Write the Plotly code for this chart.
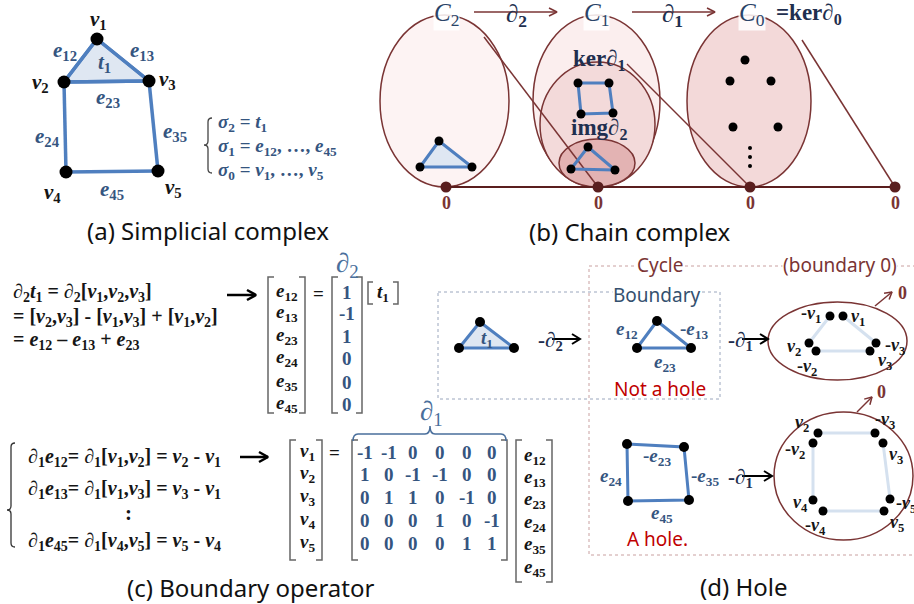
import math
import plotly.graph_objects as go

W, H = 914, 604
SERIF = "Liberation Serif"
SANS = "Noto Sans"

# ---------------- data ----------------
# (a) simplicial complex: vertex positions and edges
VA_X = [97, 64, 149, 66, 158]
VA_Y = [39, 82, 81, 172, 171]
EDGES = [(0, 1), (0, 2), (1, 2), (1, 3), (2, 4), (3, 4)]
EDGE_NAMES = ["12", "13", "23", "24", "35", "45"]
VERT_NAMES = ["1", "2", "3", "4", "5"]

# (b) chain complex
C2_TRI_X = [439, 420, 472]
C2_TRI_Y = [141, 167, 167]
KER_SQ_X = [578, 609, 613, 581]
KER_SQ_Y = [83, 83, 113, 114]
IMG_TRI_X = [588, 571, 615]
IMG_TRI_Y = [147, 169, 170]
C0_PTS_X = [745, 730, 771, 733, 778]
C0_PTS_Y = [60, 81, 81, 127, 127]
C0_DOTS_X = [750, 750, 750]
C0_DOTS_Y = [148, 157, 166]
ZERO_X = [446, 598, 750, 895]
ZERO_Y = [187, 187, 187, 187]

# (c) boundary matrices
D2 = [1, -1, 1, 0, 0, 0]
D1 = [[-1, -1, 0, 0, 0, 0],
      [1, 0, -1, -1, 0, 0],
      [0, 1, 1, 0, -1, 0],
      [0, 0, 0, 1, 0, -1],
      [0, 0, 0, 0, 1, 1]]

# (d) hole
T1_X = [480, 459, 514]
T1_Y = [322, 348, 348]
BT_X = [657, 637, 691]
BT_Y = [321, 348, 348]
SQ_X = [627, 684, 689, 628]
SQ_Y = [444, 447, 500, 501]
E1_DOTS_X = [830, 843, 809, 816, 876, 870]
E1_DOTS_Y = [316, 316, 343, 351, 343, 351]
E2_DOTS_X = [818, 875, 813, 883, 813, 823, 890, 884]
E2_DOTS_Y = [433, 433, 443, 443, 500, 511, 499, 511]

# ---------------- colours ----------------
BLUE = "#4f7fbf"
TRI_FILL = "#dfe7f2"
NAVY = "#35557f"
DARK = "#151515"
MAROON = "#7a3434"
MAROON_D = "#5a1e1e"
RED = "#c00000"
LIGHT = "#d5e1ef"

fig = go.Figure()
ann = []
shapes = []


def txt(x, y, s, size=18, color=DARK, family=SERIF, xa="center", ya="middle", bg=None):
    ann.append(dict(x=x, y=y, xref="x", yref="y", text=s, showarrow=False,
                    font=dict(size=size, color=color, family=family),
                    xanchor=xa, yanchor=ya, borderpad=0,
                    bgcolor=bg if bg else "rgba(0,0,0,0)"))


def lines(xs, ys, color, width, fill=None, fillcolor=None):
    fig.add_trace(go.Scatter(x=xs, y=ys, mode="lines", line=dict(color=color, width=width),
                             fill=fill, fillcolor=fillcolor, hoverinfo="skip", showlegend=False))


def dots(xs, ys, size, color="black"):
    fig.add_trace(go.Scatter(x=xs, y=ys, mode="markers", marker=dict(size=size, color=color),
                             hoverinfo="skip", showlegend=False))


def ellipse(x0, y0, x1, y1, fill, line=MAROON, width=1.5):
    shapes.append(dict(type="circle", xref="x", yref="y", x0=x0, y0=y0, x1=x1, y1=y1,
                       fillcolor=fill, line=dict(color=line, width=width), layer="below"))


def sline(x0, y0, x1, y1, color, width=1.5, dash="solid"):
    shapes.append(dict(type="line", xref="x", yref="y", x0=x0, y0=y0, x1=x1, y1=y1,
                       line=dict(color=color, width=width, dash=dash), layer="below"))


def arrow(x0, y0, x1, y1, color, width=2, hl=8, hw=5):
    dx, dy = x1 - x0, y1 - y0
    L = math.hypot(dx, dy)
    ux, uy = dx / L, dy / L
    px, py = -uy, ux
    bx, by = x1 - ux * hl, y1 - uy * hl
    xs = [x0, x1, None, bx + px * hw, x1, bx - px * hw]
    ys = [y0, y1, None, by + py * hw, y1, by - py * hw]
    lines(xs, ys, color, width)


def bracket(x0, x1, y0, y1, color="#666", width=1.5, serif=6):
    lines([x0 + serif, x0, x0, x0 + serif, None, x1 - serif, x1, x1, x1 - serif],
          [y0, y0, y1, y1, None, y0, y0, y1, y1], color, width)


def vbrace(xl, xr, y0, y1, ym, color="#333", width=1.3):
    xm = (xl + xr) / 2
    r = 4
    p = (f"M {xr},{y0} Q {xm},{y0} {xm},{y0 + r} L {xm},{ym - r} Q {xm},{ym} {xl},{ym} "
         f"Q {xm},{ym} {xm},{ym + r} L {xm},{y1 - r} Q {xm},{y1} {xr},{y1}")
    shapes.append(dict(type="path", xref="x", yref="y", path=p, line=dict(color=color, width=width)))


def hbrace(x0, x1, yend, yspine, ytip, xt, color="#4a6f9c", width=1.5):
    r = 5
    p = (f"M {x0},{yend} Q {x0},{yspine} {x0 + r},{yspine} L {xt - r},{yspine} "
         f"Q {xt},{yspine} {xt},{ytip} Q {xt},{yspine} {xt + r},{yspine} "
         f"L {x1 - r},{yspine} Q {x1},{yspine} {x1},{yend}")
    shapes.append(dict(type="path", xref="x", yref="y", path=p, line=dict(color=color, width=width)))


def sub(base, idx, italic=True):
    b = f"<i>{base}</i>" if italic else base
    return f"{b}<sub>{idx}</sub>"


# ================= (a) Simplicial complex =================
tri = [EDGES[0][0], EDGES[0][1], EDGES[1][1], EDGES[0][0]]
lines([VA_X[i] for i in tri], [VA_Y[i] for i in tri], BLUE, 3.5, fill="toself", fillcolor=TRI_FILL)
ex, ey = [], []
for a, b in EDGES:
    ex += [VA_X[a], VA_X[b], None]
    ey += [VA_Y[a], VA_Y[b], None]
lines(ex, ey, BLUE, 3.5)
dots(VA_X, VA_Y, 13)

v_lab_pos = [(98, 20), (40, 83), (167, 80), (52, 193), (173, 188)]
for (x, y), n in zip(v_lab_pos, VERT_NAMES):
    txt(x, y, "<b>" + sub("v", n) + "</b>", 21, DARK)
e_lab_pos = [(65, 51), (142, 51), (108, 98), (47, 137), (175, 132), (112, 190)]
for (x, y), n in zip(e_lab_pos, EDGE_NAMES):
    txt(x, y, "<b>" + sub("e", n) + "</b>", 21, NAVY)
txt(104, 63, "<b>" + sub("t", "1") + "</b>", 21, NAVY)

vbrace(204, 212, 118, 173, 145, color="#444")
txt(217, 123, "<b>" + sub("σ", "2") + " = " + sub("t", "1") + "</b>", 19, NAVY, xa="left")
txt(217, 147, "<b>" + sub("σ", "1") + " = " + sub("e", EDGE_NAMES[0]) + ", …, " + sub("e", EDGE_NAMES[-1]) + "</b>",
    19, NAVY, xa="left")
txt(217, 171, "<b>" + sub("σ", "0") + " = " + sub("v", VERT_NAMES[0]) + ", …, " + sub("v", VERT_NAMES[-1]) + "</b>",
    19, NAVY, xa="left")
txt(208, 230, "(a) Simplicial complex", 24, "#111", SANS)

# ================= (b) Chain complex =================
ellipse(380, 15, 509, 187, "#fdf3f3")
ellipse(533, 15, 660, 187, "#fbeeee")
ellipse(540, 62, 655, 187, "#f3dada")
ellipse(559, 139, 635, 187, "#e3b3b3")
ellipse(687, 15, 811, 187, "#f3d9d9")
sline(484, 37, ZERO_X[1], ZERO_Y[1], MAROON)
sline(627, 64, ZERO_X[2], ZERO_Y[2], MAROON)
sline(802, 40, ZERO_X[3], ZERO_Y[3], MAROON)
sline(ZERO_X[0], ZERO_Y[0], ZERO_X[-1], ZERO_Y[-1], MAROON_D, 2)

lines(C2_TRI_X + [C2_TRI_X[0]], C2_TRI_Y + [C2_TRI_Y[0]], BLUE, 3, fill="toself", fillcolor=TRI_FILL)
dots(C2_TRI_X, C2_TRI_Y, 9)
lines(KER_SQ_X + [KER_SQ_X[0]], KER_SQ_Y + [KER_SQ_Y[0]], BLUE, 3)
dots(KER_SQ_X, KER_SQ_Y, 9)
lines(IMG_TRI_X + [IMG_TRI_X[0]], IMG_TRI_Y + [IMG_TRI_Y[0]], BLUE, 3)
dots(IMG_TRI_X, IMG_TRI_Y, 9)
dots(C0_PTS_X, C0_PTS_Y, 9)
dots(C0_DOTS_X, C0_DOTS_Y, 4)
dots(ZERO_X, ZERO_Y, 11, MAROON_D)
for x in ZERO_X:
    txt(x, 203, "<b>0</b>", 18, MAROON)

txt(446, 14, sub("C", "2"), 25, "#2a4468", bg="rgba(255,255,255,0.85)")
txt(596, 14, sub("C", "1"), 25, "#2a4468", bg="rgba(255,255,255,0.85)")
txt(752, 14, sub("C", "0"), 25, "#2a4468", bg="rgba(255,255,255,0.85)")
txt(775, 14, "<b>=ker∂<sub>0</sub></b>", 23, "#1f2f4f", xa="left")
arrow(474, 12, 557, 12, MAROON, 1.5, 8, 4)
arrow(632, 12, 715, 12, MAROON, 1.5, 8, 4)
txt(516, 15, "<b>∂<sub>2</sub></b>", 25, "#1f3050")
txt(672, 15, "<b>∂<sub>1</sub></b>", 25, "#1f3050")
txt(599, 60, "<b>ker∂<sub>1</sub></b>", 23, "#1f2f4f")
txt(599, 129, "<b>img∂<sub>2</sub></b>", 23, "#1f2f4f")
txt(630, 231, "(b) Chain complex", 24, "#111", SANS)

# ================= (c) Boundary operator =================
txt(12, 292, "<b>∂<sub>2</sub>" + sub("t", "1") + " = ∂<sub>2</sub>[" + sub("v", "1") + "," + sub("v", "2") + ","
    + sub("v", "3") + "]</b>", 20, DARK, xa="left")
txt(12, 317, "<b>= [" + sub("v", "2") + "," + sub("v", "3") + "] - [" + sub("v", "1") + "," + sub("v", "3")
    + "] + [" + sub("v", "1") + "," + sub("v", "2") + "]</b>", 20, DARK, xa="left")
txt(12, 340, "<b>= " + sub("e", "12") + " – " + sub("e", "13") + " + " + sub("e", "23") + "</b>", 20, DARK, xa="left")
arrow(227, 295, 256, 295, "black", 2.5, 9, 5)

ROWS2 = [292, 313, 336, 358, 382, 404]
bracket(268, 305, 277, 413)
for y, n in zip(ROWS2, EDGE_NAMES):
    txt(287, y, "<b>" + sub("e", n) + "</b>", 19, DARK)
txt(318, 293, "<b>=</b>", 19, DARK)
bracket(332, 362, 277, 413)
for y, v in zip(ROWS2, D2):
    txt(347, y, f"<b>{v}</b>", 19, NAVY)
txt(347, 265, "∂<sub>2</sub>", 27, "#4a6f9c")
bracket(368, 398, 282, 304, serif=5)
txt(383, 293, "<b>" + sub("t", "1") + "</b>", 19, DARK)

vbrace(7, 15, 443, 547, 510, color="#333")


def lab(a, b, c):
    return ("<b>∂<sub>1</sub>" + sub("e", a) + "= ∂<sub>1</sub>[" + sub("v", b) + "," + sub("v", c)
            + "] = " + sub("v", c) + " - " + sub("v", b) + "</b>")


txt(27, 457, lab("12", "1", "2"), 20, DARK, xa="left")
txt(27, 489, lab("13", "1", "3"), 20, DARK, xa="left")
txt(128, 513, "<b>:</b>", 21, DARK)
txt(27, 541, lab("45", "4", "5"), 20, DARK, xa="left")
arrow(240, 457, 268, 457, "black", 2.5, 9, 5)

ROWS1 = [452, 474, 497, 520, 543]
bracket(290, 322, 440, 560)
for y, n in zip(ROWS1, VERT_NAMES):
    txt(307, y, "<b>" + sub("v", n) + "</b>", 19, DARK)
txt(334, 452, "<b>=</b>", 19, DARK)
bracket(352, 507, 440, 560)
COLS1 = [365, 389, 413, 440, 467, 492]
for y, row in zip(ROWS1, D1):
    for x, v in zip(COLS1, row):
        txt(x, y, f"<b>{v}</b>", 19, NAVY)
hbrace(353, 506, 441, 434, 426, 430)
txt(431, 413, "∂<sub>1</sub>", 27, "#4a6f9c")
ROWSE = [456, 478, 500, 523, 545, 568]
bracket(516, 552, 440, 582)
for y, n in zip(ROWSE, EDGE_NAMES):
    txt(535, y, "<b>" + sub("e", n) + "</b>", 19, DARK)
txt(250, 587, "(c) Boundary operator", 24, "#111", SANS)

# ================= (d) Hole =================
shapes.append(dict(type="rect", xref="x", yref="y", x0=438, y0=292, x1=720, y1=399,
                   line=dict(color="#9aa6bd", width=1, dash="dot"), layer="below"))
shapes.append(dict(type="rect", xref="x", yref="y", x0=589, y0=266, x1=930, y1=555,
                   line=dict(color="#c9a0a0", width=1, dash="dot"), layer="below"))
txt(660, 265, "Cycle", 19, MAROON, SANS, bg="white")
txt(840, 265, "(boundary 0)", 19, MAROON, SANS, bg="white")
txt(657, 295, "Boundary", 19, "#34506e", SANS, bg="white")

lines(T1_X + [T1_X[0]], T1_Y + [T1_Y[0]], BLUE, 3, fill="toself", fillcolor=TRI_FILL)
dots(T1_X, T1_Y, 10)
txt(487, 339, "<b>" + sub("t", "1") + "</b>", 19, NAVY)
txt(550, 341, "<b>-∂<sub>2</sub></b>", 21, "#1f2f4f")
arrow(552, 339, 580, 339, "black", 2, 8, 5)

lines(BT_X + [BT_X[0]], BT_Y + [BT_Y[0]], BLUE, 3)
dots(BT_X, BT_Y, 10)
txt(627, 330, "<b>" + sub("e", "12") + "</b>", 19, NAVY)
txt(694, 330, "<b>-" + sub("e", "13") + "</b>", 19, NAVY)
txt(665, 363, "<b>" + sub("e", "23") + "</b>", 19, NAVY)
txt(660, 389, "Not a hole", 19, RED, SANS)
txt(740, 341, "<b>-∂<sub>1</sub></b>", 21, "#1f2f4f")
arrow(742, 339, 768, 339, "black", 2, 8, 5)

ellipse(768, 302, 907, 380, "white")
lines([E1_DOTS_X[1], E1_DOTS_X[4], None, E1_DOTS_X[0], E1_DOTS_X[2], None, E1_DOTS_X[3], E1_DOTS_X[5]],
      [E1_DOTS_Y[1], E1_DOTS_Y[4], None, E1_DOTS_Y[0], E1_DOTS_Y[2], None, E1_DOTS_Y[3], E1_DOTS_Y[5]],
      LIGHT, 3)
dots(E1_DOTS_X, E1_DOTS_Y, 9)
txt(811, 314, "<b>-" + sub("v", "1") + "</b>", 18, DARK)
txt(858, 317, "<b>" + sub("v", "1") + "</b>", 18, DARK)
txt(794, 347, "<b>" + sub("v", "2") + "</b>", 18, DARK)
txt(807, 367, "<b>-" + sub("v", "2") + "</b>", 18, DARK)
txt(895, 346, "<b>-" + sub("v", "3") + "</b>", 18, DARK)
txt(885, 361, "<b>" + sub("v", "3") + "</b>", 18, DARK)
arrow(875, 306, 892, 292, MAROON, 1.5, 7, 4)
txt(902, 293, "<b>0</b>", 18, MAROON)

lines(SQ_X + [SQ_X[0]], SQ_Y + [SQ_Y[0]], BLUE, 3)
dots(SQ_X, SQ_Y, 10)
txt(657, 457, "<b>-" + sub("e", "23") + "</b>", 19, NAVY)
txt(611, 477, "<b>" + sub("e", "24") + "</b>", 19, NAVY)
txt(705, 477, "<b>-" + sub("e", "35") + "</b>", 19, NAVY)
txt(662, 514, "<b>" + sub("e", "45") + "</b>", 19, NAVY)
txt(657, 539, "A hole.", 19, RED, SANS)
txt(740, 478, "<b>-∂<sub>1</sub></b>", 21, "#1f2f4f")
arrow(742, 476, 772, 476, "black", 2, 8, 5)

ellipse(774, 412, 913, 540, "white")
lines([E2_DOTS_X[0], E2_DOTS_X[1], None, E2_DOTS_X[2], E2_DOTS_X[4], None,
       E2_DOTS_X[3], E2_DOTS_X[6], None, E2_DOTS_X[5], E2_DOTS_X[7]],
      [E2_DOTS_Y[0], E2_DOTS_Y[1], None, E2_DOTS_Y[2], E2_DOTS_Y[4], None,
       E2_DOTS_Y[3], E2_DOTS_Y[6], None, E2_DOTS_Y[5], E2_DOTS_Y[7]], LIGHT, 3)
dots(E2_DOTS_X, E2_DOTS_Y, 9)
txt(802, 423, "<b>" + sub("v", "2") + "</b>", 18, DARK)
txt(885, 420, "<b>-" + sub("v", "3") + "</b>", 18, DARK)
txt(795, 450, "<b>-" + sub("v", "2") + "</b>", 18, DARK)
txt(896, 455, "<b>" + sub("v", "3") + "</b>", 18, DARK)
txt(800, 503, "<b>" + sub("v", "4") + "</b>", 18, DARK)
txt(906, 504, "<b>-" + sub("v", "5") + "</b>", 18, DARK)
txt(815, 526, "<b>-" + sub("v", "4") + "</b>", 18, DARK)
txt(897, 523, "<b>" + sub("v", "5") + "</b>", 18, DARK)
arrow(857, 412, 872, 397, MAROON, 1.5, 7, 4)
txt(881, 392, "<b>0</b>", 18, MAROON)

txt(743, 586, "(d) Hole", 24, "#111", SANS)

fig.update_layout(
    width=W, height=H, margin=dict(l=0, r=0, t=0, b=0),
    paper_bgcolor="white", plot_bgcolor="white",
    xaxis=dict(range=[0, W], visible=False, fixedrange=True),
    yaxis=dict(range=[H, 0], visible=False, fixedrange=True),
    shapes=shapes, annotations=ann, showlegend=False,
)
fig.write_html("out.html", config={"staticPlot": True},
               post_script="document.body.style.margin='0';document.body.style.overflow='hidden';")
